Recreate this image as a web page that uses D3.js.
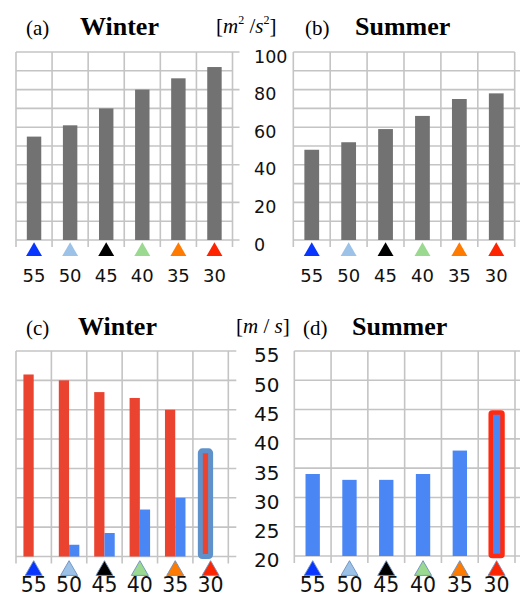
<!DOCTYPE html>
<html>
<head>
<meta charset="utf-8">
<script src="https://cdn.jsdelivr.net/npm/d3@7"></script>
<style>
  html, body { margin: 0; padding: 0; background: #fff; }
  svg { display: block; }
</style>
</head>
<body>
<svg id="chart" width="520" height="596"></svg>
<script>
// Categories along the bottom, with the marker colour shown under each
const categories = ["55", "50", "45", "40", "35", "30"];
const markerColors = ["#0836ff", "#9cc2e8", "#000000", "#9ad98f", "#ff7a00", "#ff2400"];

// Top row values [m^2/s^2]
const winterTop = [55, 61, 70, 80, 86, 92];
const summerTop = [48, 52, 59, 66, 75, 78];
const topTicks = [0, 20, 40, 60, 80, 100];

// Bottom row values [m/s]
const winterRed = [51, 50, 48, 47, 45, 38];
const winterBlue = [null, 22, 24, 28, 30, null];
const summerBlue = [34, 33, 33, 34, 38, 44.5];
const bottomTicks = [20, 25, 30, 35, 40, 45, 50, 55];
const highlighted = "30";

const GRID = "#c4c4c4";
const GRAY_BAR = "#727272";
const RED = "#ea4330";
const BLUE = "#4a86f4";
const OUTLINE_BLUE = "#5f92cb";
const OUTLINE_RED = "#ff2a10";

const svg = d3.select("#chart");

function makePanel(p) {
  const x = d3.scaleBand().domain(categories).range([p.x0, p.x1]).paddingInner(0).paddingOuter(0);
  const y = d3.scaleLinear().domain(p.domain).range([p.yBottom, p.yTop]);
  const g = svg.append("g");

  // horizontal grid
  const gridVals = d3.range(p.domain[0], p.domain[1] + p.gridStep / 2, p.gridStep);
  g.selectAll("line.h").data(gridVals).join("line")
    .attr("x1", p.x0)
    .attr("x2", d => (p.majorStep && (d - p.domain[0]) % p.majorStep === 0) || p.allTicks ? p.x1 + p.tickOut : p.x1 + (p.extendRight || 0))
    .attr("y1", d => y(d)).attr("y2", d => y(d))
    .attr("stroke", GRID).attr("stroke-width", 1.6);

  // vertical grid, with short tick stubs below the baseline
  const edges = categories.map(c => x(c)).concat([p.x1]);
  g.selectAll("line.v").data(edges).join("line")
    .attr("x1", d => d).attr("x2", d => d)
    .attr("y1", p.yTop).attr("y2", p.yBottom + 7)
    .attr("stroke", GRID).attr("stroke-width", 1.6);

  return { x, y, g };
}

function markers(panel, cy, side, outlined) {
  const sym = d3.symbol().type(d3.symbolTriangle).size(side * side * Math.sqrt(3) / 4);
  panel.g.selectAll("path.m").data(categories).join("path")
    .attr("d", sym)
    .attr("transform", d => `translate(${panel.x(d) + panel.x.bandwidth() / 2},${cy})`)
    .attr("fill", (d, i) => markerColors[i])
    .attr("stroke", outlined ? "#6a8fbf" : "none")
    .attr("stroke-width", outlined ? 0.9 : 0);
}

function xLabels(panel, baseline, size) {
  const ax = panel.g.append("g")
    .attr("transform", `translate(0,${baseline})`)
    .call(d3.axisBottom(panel.x).tickSize(0).tickPadding(0));
  ax.select(".domain").remove();
  ax.selectAll("text").attr("y", 0).attr("dy", 0)
    .attr("font-family", "DejaVu Sans").attr("font-size", size).attr("fill", "#111");
}

function yLabels(yScale, ticks, xPos, size) {
  const ax = svg.append("g")
    .attr("transform", `translate(${xPos},4.5)`)
    .call(d3.axisRight(yScale).tickValues(ticks).tickSize(0).tickPadding(0));
  ax.select(".domain").remove();
  ax.selectAll("text")
    .attr("font-family", "DejaVu Sans").attr("font-size", size).attr("fill", "#111");
}

function title(x, y, tag, season, seasonX) {
  svg.append("text").attr("x", x).attr("y", y)
    .attr("font-family", "Liberation Serif").attr("font-size", 21).text(tag);
  svg.append("text").attr("x", seasonX).attr("y", y)
    .attr("font-family", "Liberation Serif").attr("font-size", 26).attr("font-weight", "bold").text(season);
}

// ---------- (a) Winter, top-left ----------
const pa = makePanel({ x0: 16, x1: 232.5, yTop: 52, yBottom: 240, domain: [0, 100], gridStep: 10, majorStep: 20, tickOut: 7 });
pa.g.selectAll("rect.bar").data(winterTop).join("rect")
  .attr("x", (d, i) => pa.x(categories[i]) + pa.x.bandwidth() * 0.3)
  .attr("width", pa.x.bandwidth() * 0.4)
  .attr("y", d => pa.y(d)).attr("height", d => pa.y(0) - pa.y(d))
  .attr("fill", GRAY_BAR);
markers(pa, 251.5, 16, false);
xLabels(pa, 282, 18);

// ---------- (b) Summer, top-right ----------
const pb = makePanel({ x0: 293.3, x1: 514.7, yTop: 52, yBottom: 240, domain: [0, 100], gridStep: 10, majorStep: 20, tickOut: 0, extendRight: 8 });
pb.g.selectAll("rect.bar").data(summerTop).join("rect")
  .attr("x", (d, i) => pb.x(categories[i]) + pb.x.bandwidth() * 0.3)
  .attr("width", pb.x.bandwidth() * 0.4)
  .attr("y", d => pb.y(d)).attr("height", d => pb.y(0) - pb.y(d))
  .attr("fill", GRAY_BAR);
markers(pb, 251.5, 16, false);
xLabels(pb, 282, 18);
yLabels(pb.y, topTicks, 254, 17.5);

// ---------- (c) Winter, bottom-left ----------
const pc = makePanel({ x0: 16, x1: 228.3, yTop: 351, yBottom: 556.5, domain: [20, 55], gridStep: 5, allTicks: true, tickOut: 8 });
const sub = d3.scaleBand().domain(["red", "blue"]).range([0, pc.x.bandwidth() * 0.58]);
const subOffset = pc.x.bandwidth() * 0.21;
pc.g.selectAll("rect.red").data(winterRed).join("rect")
  .attr("x", (d, i) => pc.x(categories[i]) + subOffset + sub("red"))
  .attr("width", sub.bandwidth())
  .attr("y", d => pc.y(d)).attr("height", d => pc.y(20) - pc.y(d))
  .attr("fill", RED)
  .attr("stroke", (d, i) => categories[i] === highlighted ? OUTLINE_BLUE : "none")
  .attr("stroke-width", (d, i) => categories[i] === highlighted ? 5 : 0)
  .attr("rx", (d, i) => categories[i] === highlighted ? 2 : 0);
pc.g.selectAll("rect.blue").data(winterBlue.map((v, i) => ({ v, c: categories[i] })).filter(d => d.v != null)).join("rect")
  .attr("x", d => pc.x(d.c) + subOffset + sub("blue"))
  .attr("width", sub.bandwidth())
  .attr("y", d => pc.y(d.v)).attr("height", d => pc.y(20) - pc.y(d.v))
  .attr("fill", BLUE);
markers(pc, 570.5, 17, true);
xLabels(pc, 592, 20.5);

// ---------- (d) Summer, bottom-right ----------
const pd = makePanel({ x0: 294.3, x1: 515, yTop: 351, yBottom: 556, domain: [20, 55], gridStep: 5, allTicks: false, tickOut: 0, extendRight: 8 });
pd.g.selectAll("rect.bar").data(summerBlue).join("rect")
  .attr("x", (d, i) => {
    const w = categories[i] === highlighted ? pd.x.bandwidth() * 0.32 : pd.x.bandwidth() * 0.39;
    return pd.x(categories[i]) + (pd.x.bandwidth() - w) / 2;
  })
  .attr("width", (d, i) => categories[i] === highlighted ? pd.x.bandwidth() * 0.32 : pd.x.bandwidth() * 0.39)
  .attr("y", d => pd.y(d)).attr("height", d => pd.y(20) - pd.y(d))
  .attr("fill", BLUE)
  .attr("stroke", (d, i) => categories[i] === highlighted ? OUTLINE_RED : "none")
  .attr("stroke-width", (d, i) => categories[i] === highlighted ? 4.5 : 0)
  .attr("rx", (d, i) => categories[i] === highlighted ? 1.5 : 0);
markers(pd, 570.5, 17, true);
xLabels(pd, 592, 20.5);
yLabels(pd.y, bottomTicks, 254, 20);

// ---------- titles and units ----------
title(26, 35, "(a)", "Winter", 80);
title(305, 35, "(b)", "Summer", 355);
title(26, 335, "(c)", "Winter", 78);
title(303, 335, "(d)", "Summer", 352);

const u1 = svg.append("text").attr("x", 216).attr("y", 33)
  .attr("font-family", "Liberation Serif").attr("font-size", 21);
u1.append("tspan").text("[");
u1.append("tspan").attr("font-style", "italic").text("m");
u1.append("tspan").attr("font-size", 12).attr("dy", -9).text("2");
u1.append("tspan").attr("dy", 9).text(" /");
u1.append("tspan").attr("font-style", "italic").text("s");
u1.append("tspan").attr("font-size", 12).attr("dy", -9).text("2");
u1.append("tspan").attr("dy", 9).text("]");

const u2 = svg.append("text").attr("x", 236).attr("y", 333)
  .attr("font-family", "Liberation Serif").attr("font-size", 21);
u2.append("tspan").text("[");
u2.append("tspan").attr("font-style", "italic").text("m");
u2.append("tspan").text(" / ");
u2.append("tspan").attr("font-style", "italic").text("s");
u2.append("tspan").text("]");
</script>
</body>
</html>
